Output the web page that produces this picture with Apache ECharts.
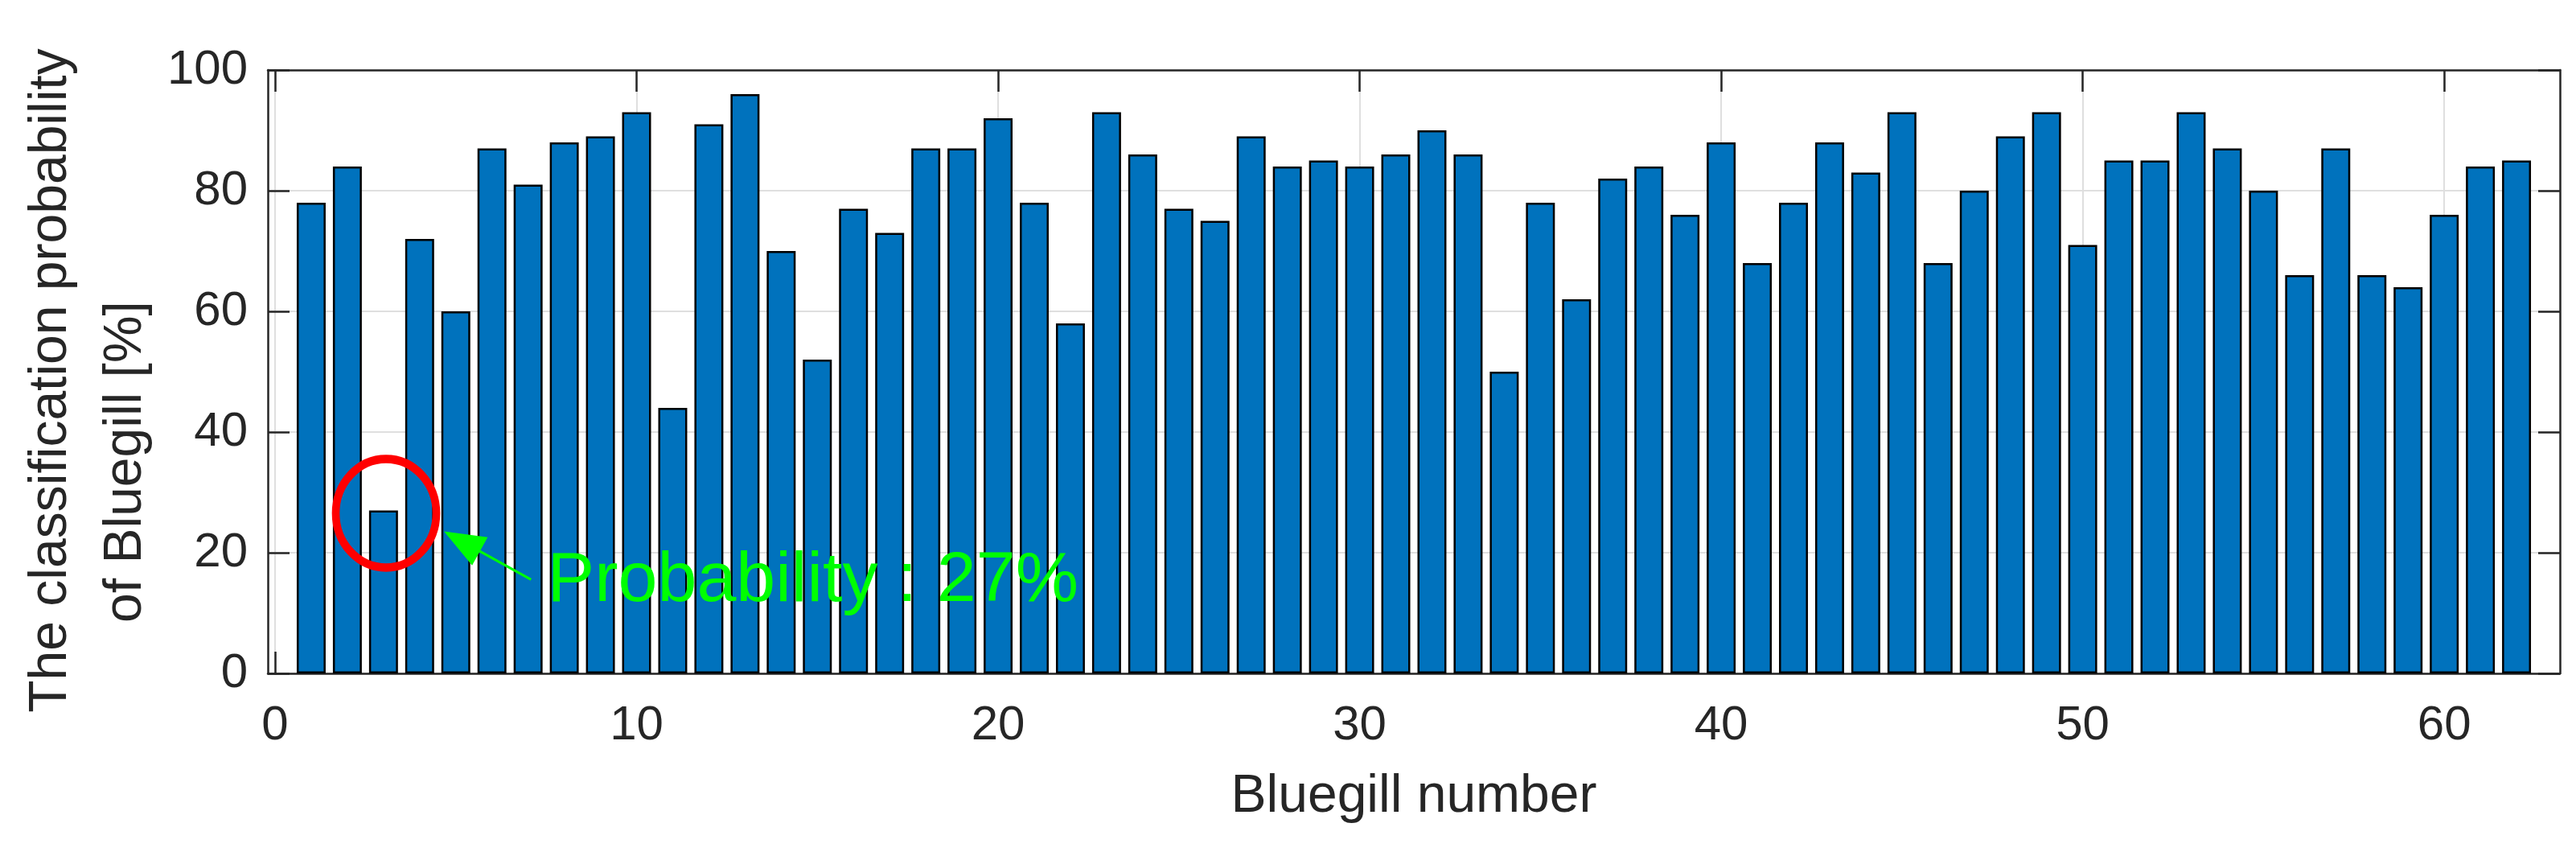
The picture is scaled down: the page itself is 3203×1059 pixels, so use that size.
<!DOCTYPE html>
<html>
<head>
<meta charset="utf-8">
<script src="https://cdn.jsdelivr.net/npm/echarts@6/dist/echarts.min.js"></script>
<style>
html,body{margin:0;padding:0;background:#fff;}
#chart{width:3203px;height:1059px;}
</style>
</head>
<body>
<div id="chart"></div>
<script>
// ---- data ----
const bluegillNumbers = [1,2,3,4,5,6,7,8,9,10,11,12,13,14,15,16,17,18,19,20,21,22,23,24,25,26,27,28,29,30,31,32,33,34,35,36,37,38,39,40,41,42,43,44,45,46,47,48,49,50,51,52,53,54,55,56,57,58,59,60,61,62];
const probabilities = [78,84,27,72,60,87,81,88,89,93,44,91,96,70,52,77,73,87,87,92,78,58,93,86,77,75,89,84,85,84,86,90,86,50,78,62,82,84,76,88,68,78,88,83,93,68,80,89,93,71,85,85,93,87,80,66,87,66,64,76,84,85];
const xTicks = [0,10,20,30,40,50,60];
const yTicks = [0,20,40,60,80,100];
const xRange = [-0.2, 63.2];
const yRange = [0, 100];
const xTitle = 'Bluegill number';
const yTitleLines = ['The classification probability', 'of Bluegill [%]'];
// annotation (data coordinates)
const circleCenter = [3.07, 26.54];
const arrowTail = [7.08, 15.55];
const arrowHeadCenter = [5.17, 21.89];
const noteAnchor = [7.52, 15.18];
const noteText = 'Probability : 27%';

const FONT = "'Liberation Sans', Arial, Helvetica, sans-serif";
const TXT = '#262626';
const AXIS = '#262626';
const GRID = '#dfdfdf';

const chart = echarts.init(document.getElementById('chart'), null, {renderer: 'canvas'});

const seriesData = bluegillNumbers.map((n, i) => [n, probabilities[i]]);

const tickCommon = {show: true, inside: true, length: 27, lineStyle: {color: AXIS, width: 2.5}};

const option = {
  animation: false,
  backgroundColor: '#ffffff',
  grid: {left: 333, right: 20, top: 87, bottom: 222, containLabel: false},
  xAxis: [
    {
      type: 'value', position: 'bottom', min: xRange[0], max: xRange[1],
      axisLine: {show: true, onZero: false, lineStyle: {color: AXIS, width: 2.5}},
      axisTick: Object.assign({customValues: xTicks}, tickCommon),
      axisLabel: {show: true, customValues: xTicks, margin: 35, color: TXT, fontSize: 60, fontFamily: FONT},
      splitLine: {show: true, lineStyle: {color: GRID, width: 2}},
      name: xTitle, nameLocation: 'middle', nameGap: 121,
      nameTextStyle: {color: TXT, fontSize: 66, fontFamily: FONT}
    },
    {
      type: 'value', position: 'top', min: xRange[0], max: xRange[1],
      axisLine: {show: true, onZero: false, lineStyle: {color: AXIS, width: 2.5}},
      axisTick: Object.assign({customValues: xTicks}, tickCommon),
      axisLabel: {show: false, customValues: xTicks},
      splitLine: {show: false}
    }
  ],
  yAxis: [
    {
      type: 'value', position: 'left', min: yRange[0], max: yRange[1], interval: 20,
      axisLine: {show: true, onZero: false, lineStyle: {color: AXIS, width: 2.5}},
      axisTick: tickCommon,
      axisLabel: {show: true, margin: 25, color: TXT, fontSize: 60, fontFamily: FONT},
      splitLine: {show: true, lineStyle: {color: GRID, width: 2}}
    },
    {
      type: 'value', position: 'right', min: yRange[0], max: yRange[1], interval: 20,
      axisLine: {show: true, onZero: false, lineStyle: {color: AXIS, width: 2.5}},
      axisTick: tickCommon,
      axisLabel: {show: false},
      splitLine: {show: false}
    }
  ],
  series: [{
    type: 'bar',
    xAxisIndex: 0, yAxisIndex: 0,
    data: seriesData,
    barWidth: '80%',
    itemStyle: {color: '#0072BD', borderColor: '#000000', borderWidth: 2.5},
    emphasis: {disabled: true},
    silent: true,
    markPoint: {
      silent: true,
      animation: false,
      data: [
        {
          coord: circleCenter, symbol: 'circle', symbolSize: [125, 135],
          itemStyle: {color: 'rgba(0,0,0,0)', borderColor: '#ff0000', borderWidth: 10},
          label: {show: false}
        },
        {
          coord: noteAnchor, symbol: 'rect', symbolSize: 1,
          itemStyle: {color: 'rgba(0,0,0,0)'},
          label: {show: true, position: 'right', distance: 0, formatter: noteText,
                  color: '#00ff00', fontSize: 88, fontFamily: FONT}
        }
      ]
    },
    markLine: {
      silent: true,
      animation: false,
      label: {show: false},
      lineStyle: {type: 'solid', color: '#00ff00', width: 3},
      symbol: ['none', 'triangle'],
      data: [[
        {coord: arrowTail, symbol: 'none'},
        {coord: arrowHeadCenter, symbol: 'triangle', symbolSize: [40, 51]}
      ]]
    }
  }],
  graphic: [
    {
      type: 'text', x: 64, y: 473, rotation: Math.PI / 2,
      style: {text: yTitleLines[0], fill: TXT, fontSize: 66, fontFamily: FONT, align: 'center', verticalAlign: 'middle'}
    },
    {
      type: 'text', x: 157, y: 574, rotation: Math.PI / 2,
      style: {text: yTitleLines[1], fill: TXT, fontSize: 66, fontFamily: FONT, align: 'center', verticalAlign: 'middle'}
    }
  ]
};
chart.setOption(option);
</script>
</body>
</html>
